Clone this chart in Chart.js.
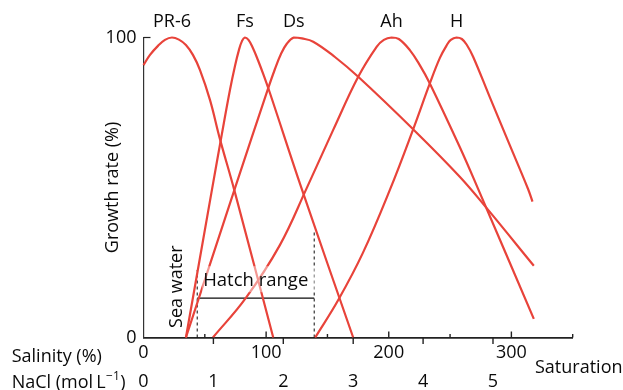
<!DOCTYPE html>
<html lang="en">
<head>
<meta charset="UTF-8">
<title>Growth rate vs salinity</title>
<script src="https://cdn.jsdelivr.net/npm/chart.js@4.4.1/dist/chart.umd.min.js"></script>
<style>
    html, body { margin: 0; padding: 0; background: #fff; }
    #wrap { width: 623px; height: 390px; }
</style>
</head>
<body>
<div id="wrap"><canvas id="growthChart" width="623" height="390"></canvas></div>

<script>
// growth curves: salinity (%) -> growth rate (%)
var pr6Salinity = [0, 5.3, 11.8, 17.5, 23.2, 28.9, 34.6, 40.3, 46, 54.2, 62.3, 74, 105.8];
var pr6Growth   = [90.8, 94.2, 97.2, 99.2, 100, 99.3, 97.5, 94.2, 89.2, 79.2, 66.2, 49.2, 0];

var fsSalinity = [34.6, 55.8, 63.9, 70.5, 74.6, 77.8, 80.3, 82.7, 85.6, 89.2, 93.3, 98.2, 103.1, 128.9, 171];
var fsGrowth   = [0, 49.2, 67.8, 82.5, 90.5, 95.8, 98.8, 100, 99.2, 96.5, 92.5, 87.2, 81.5, 49.7, 0];

var dsSalinity = [34.6, 74.6, 101.7, 107.2, 112.1, 117, 122.6, 129.2, 138.4, 156.1, 175.1, 219.9, 257.9, 279.7, 318.3];
var dsGrowth   = [0, 49.8, 83.1, 89.5, 94.5, 98, 100, 99.7, 98.6, 93.5, 86.9, 69.4, 53.6, 43.2, 23.9];

var ahSalinity = [56.6, 83.5, 111.2, 133, 154.7, 175.1, 190.1, 196, 202.3, 208.2, 217.2, 225.3, 233.5, 257.9, 272.6, 318.3];
var ahGrowth   = [0, 13.2, 30.8, 49.7, 69.2, 86.9, 96.9, 99.2, 100, 99.5, 95.8, 90.8, 84.7, 63.5, 49.8, 6.2];

var hSalinity = [140, 158.8, 178.9, 200.9, 219.9, 233.5, 241.7, 247.4, 250.6, 255.3, 259.6, 263.7, 268.8, 282.3, 298.6, 313.6, 317.2];
var hGrowth   = [0, 12.5, 28.2, 49.2, 69.4, 84.7, 93.2, 97.5, 99.2, 100, 99.5, 97.5, 93.6, 80.2, 64.2, 49.5, 45.3];

var speciesNames = ['PR-6', 'Fs', 'Ds', 'Ah', 'H'];

// axes
var salinityTicks = [0, 100, 200, 300];
var salinityMinorTicks = [50, 150, 250, 350];
var naclTicks = [0, 1, 2, 3, 4, 5];
var growthTicks = [0, 100];
var salinityMax = 350;
var salinityPerMolar = 57;   // 1 mol/L NaCl on the salinity scale

// sea water and hatch range markers
var seaWater = 43.8;
var seaWaterTop = 22.5;
var hatchMax = 139.2;
var hatchMaxTop = 35.8;
var hatchLevel = 13.1;

var RED = '#e8433a';
var INK = '#0a0a0a';
var FONT = "'Open Sans', sans-serif";
Chart.defaults.font.family = FONT;
Chart.defaults.color = INK;

function points(xs, ys) {
    return xs.map(function(x, i) { return {x: x, y: ys[i]}; });
}

var curves = [
    [pr6Salinity, pr6Growth],
    [fsSalinity, fsGrowth],
    [dsSalinity, dsGrowth],
    [ahSalinity, ahGrowth],
    [hSalinity, hGrowth]
];

var datasets = curves.map(function(c, i) {
    return {
        label: speciesNames[i],
        data: points(c[0], c[1]),
        borderColor: RED,
        borderWidth: 2.2,
        pointRadius: 0,
        tension: 0.4,
        fill: false,
        clip: false
    };
});

function marker(data, dashed) {
    return {
        data: data,
        borderColor: INK,
        borderWidth: dashed ? 1 : 1.3,
        borderDash: dashed ? [3, 3] : [],
        pointRadius: 0,
        tension: 0,
        fill: false,
        clip: false
    };
}
datasets.push(marker([{x: seaWater, y: 0}, {x: seaWater, y: seaWaterTop}], true));
datasets.push(marker([{x: hatchMax, y: 0}, {x: hatchMax, y: hatchMaxTop}], true));
datasets.push(marker([{x: seaWater, y: hatchLevel}, {x: hatchMax, y: hatchLevel}], false));

// tick marks, species names and the free labels
var extras = {
    id: 'extras',
    afterDraw: function(chart) {
        var ctx = chart.ctx;
        var xs = chart.scales.x, ys = chart.scales.y, ns = chart.scales.nacl;
        var area = chart.chartArea;
        var y0 = ys.getPixelForValue(0);

        function line(x1, y1, x2, y2) {
            ctx.beginPath();
            ctx.moveTo(x1, y1);
            ctx.lineTo(x2, y2);
            ctx.stroke();
        }

        ctx.save();
        ctx.strokeStyle = '#222';
        ctx.lineWidth = 1.4;
        salinityTicks.slice(1).forEach(function(v) {
            var px = xs.getPixelForValue(v);
            line(px, y0, px, y0 - 6);
        });
        salinityMinorTicks.forEach(function(v) {
            var px = xs.getPixelForValue(v);
            line(px, y0, px, y0 - 3.5);
        });
        naclTicks.slice(1).forEach(function(v) {
            var px = ns.getPixelForValue(v);
            line(px, y0, px, y0 + 6.5);
        });
        // little cap at the top of the y axis
        var yTop = ys.getPixelForValue(100);
        ctx.lineWidth = 1.2;
        line(area.left, yTop, area.left + 7, yTop);

        // white veil behind "Hatch range"
        var xa = xs.getPixelForValue(seaWater), xb = xs.getPixelForValue(hatchMax);
        var yh = ys.getPixelForValue(hatchLevel);
        ctx.fillStyle = 'rgba(255,255,255,0.45)';
        ctx.fillRect(xa + 5, yh - 32, xb - xa - 4, 26);

        ctx.fillStyle = INK;
        ctx.textBaseline = 'alphabetic';
        ctx.font = '18.5px ' + FONT;
        ctx.textAlign = 'center';
        ctx.fillText('Hatch range', (xa + xb) / 2, yh - 12.3);

        // species names above each peak
        ctx.font = '18px ' + FONT;
        curves.forEach(function(c, i) {
            var k = c[1].indexOf(Math.max.apply(null, c[1]));
            ctx.fillText(speciesNames[i], xs.getPixelForValue(c[0][k]), 27.3);
        });

        // sea water, rotated
        ctx.save();
        ctx.translate(xa - 15.6, 286.7);
        ctx.rotate(-Math.PI / 2);
        ctx.fillText('Sea water', 0, 0);
        ctx.restore();

        // axis names
        ctx.textAlign = 'left';
        ctx.fillText('Salinity (%)', 11.7, 361.5);
        ctx.fillText('Saturation', 535, 372.7);
        var lead = 'NaCl (mol\u2009L';
        ctx.fillText(lead, 11.7, 387.7);
        var w = ctx.measureText(lead).width;
        ctx.font = '12px ' + FONT;
        ctx.fillText('\u22121', 11.7 + w + 0.5, 380);
        var w2 = ctx.measureText('\u22121').width;
        ctx.font = '18px ' + FONT;
        ctx.fillText(')', 11.7 + w + w2 + 1, 387.7);
        ctx.restore();
    }
};

function fixTicks(values) {
    return function(scale) {
        scale.ticks = values.map(function(v) { return {value: v}; });
    };
}

var tickFont = {size: 18};

new Chart(document.getElementById('growthChart'), {
    type: 'line',
    data: {datasets: datasets},
    options: {
        responsive: false,
        devicePixelRatio: 1,
        animation: false,
        layout: {padding: {left: 95, right: 50.3, top: 37.5, bottom: 0}},
        plugins: {legend: {display: false}, tooltip: {enabled: false}},
        scales: {
            x: {
                type: 'linear', position: 'bottom', weight: 0,
                min: 0, max: salinityMax,
                grid: {display: false, drawTicks: false},
                border: {display: true, color: '#222', width: 1.8},
                ticks: {font: tickFont, padding: 5, maxRotation: 0, autoSkip: false},
                afterBuildTicks: fixTicks(salinityTicks),
                afterFit: function(s) { s.height = 28; }
            },
            nacl: {
                type: 'linear', position: 'bottom', weight: 1,
                min: 0, max: salinityMax / salinityPerMolar,
                grid: {display: false, drawTicks: false},
                border: {display: false},
                ticks: {font: tickFont, padding: 5.5, maxRotation: 0, autoSkip: false},
                afterBuildTicks: fixTicks(naclTicks),
                afterFit: function(s) { s.height = 24.5; }
            },
            y: {
                type: 'linear', position: 'left',
                min: 0, max: 100,
                grid: {display: false, drawTicks: false},
                border: {display: true, color: '#333', width: 1.2},
                ticks: {font: tickFont, padding: 7, autoSkip: false},
                afterBuildTicks: fixTicks(growthTicks),
                afterFit: function(s) { s.width = 48.5; },
                title: {
                    display: true,
                    text: 'Growth rate (%)',
                    font: {size: 18},
                    padding: {top: 7, bottom: 0}
                }
            }
        }
    },
    plugins: [extras]
});
</script>
</body>
</html>
